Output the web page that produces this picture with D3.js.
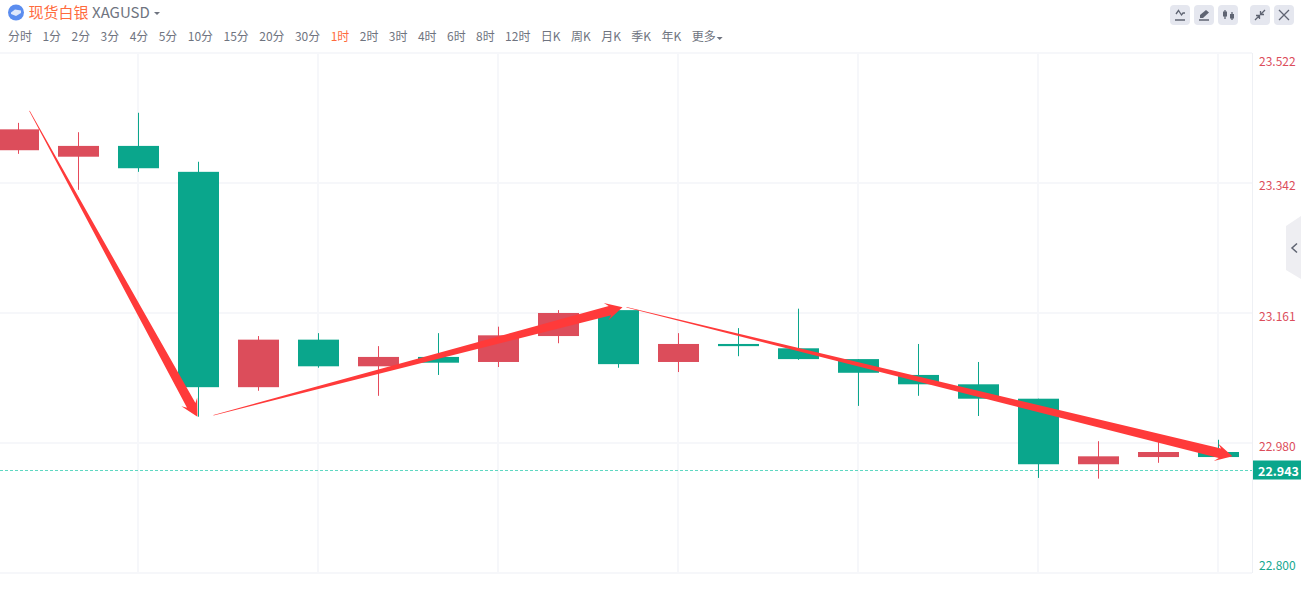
<!DOCTYPE html>
<html>
<head>
<meta charset="utf-8">
<script src="https://cdnjs.cloudflare.com/ajax/libs/d3/7.8.5/d3.min.js"></script>
<style>
  html, body { margin: 0; padding: 0; background: #fff; overflow: hidden; }
  svg { display: block; }
  text { font-family: "Noto Sans CJK SC", "Noto Sans", sans-serif; }
</style>
</head>
<body>
<svg id="chart" width="1301" height="593"></svg>
<script>
// candles
const open  = [23.387, 23.378, 23.393, 23.357, 23.058, 23.124, 23.087, 23.100, 23.093, 23.129, 23.165, 23.093, 23.118, 23.112, 23.097, 23.075, 23.062, 23.042, 22.951, 22.961, 22.968];
const high  = [23.425, 23.412, 23.439, 23.371, 23.129, 23.133, 23.115, 23.133, 23.142, 23.165, 23.165, 23.133, 23.140, 23.167, 23.097, 23.118, 23.093, 23.042, 22.983, 22.983, 22.985];
const low   = [23.382, 23.332, 23.357, 23.017, 23.053, 23.085, 23.046, 23.075, 23.086, 23.119, 23.085, 23.079, 23.101, 23.096, 23.032, 23.046, 23.018, 22.932, 22.931, 22.953, 22.961];
const close = [23.416, 23.393, 23.362, 23.058, 23.124, 23.087, 23.100, 23.092, 23.130, 23.161, 23.090, 23.118, 23.115, 23.097, 23.078, 23.062, 23.042, 22.951, 22.962, 22.968, 22.961];

const priceTicks = [23.522, 23.342, 23.161, 22.980, 22.800];
const gridCandles = [2, 5, 8, 11, 14, 17, 20];
const lastPrice = 22.943;

// hand drawn arrows: [candle index, price] from -> to
const arrowFrom = [[0.183, 23.4415], [3.25, 23.019], [10.133, 23.169]];
const arrowTo   = [[2.983, 23.017], [10.067, 23.169], [20.233, 22.962]];

const periods = ['分时','1分','2分','3分','4分','5分','10分','15分','20分','30分','1时','2时','3时','4时','6时','8时','12时','日K','周K','月K','季K','年K','更多'];
const activePeriod = '1时';

const RED = '#dc4d5b', RED_WICK = '#e64a5b', GREEN = '#0aa68c', ARROW = '#ff3a3a', GRID = '#f6f7fa';

const svg = d3.select('#chart');
const plotTop = 53, plotBottom = 573, plotRight = 1252;

const x = d3.scaleLinear().domain([0, 1]).range([18.5, 78.5]);
const y = d3.scaleLinear().domain([22.8, 23.522]).range([plotBottom, plotTop]);
const bodyWidth = 41;

/* grid */
const grid = svg.append('g').attr('stroke', GRID).attr('stroke-width', 2).attr('fill', 'none');
grid.selectAll('.h').data(priceTicks).enter().append('line')
    .attr('x1', 0).attr('x2', plotRight)
    .attr('y1', d => Math.round(y(d))).attr('y2', d => Math.round(y(d)));
grid.selectAll('.v').data(gridCandles).enter().append('line')
    .attr('x1', d => x(d) - 0.5).attr('x2', d => x(d) - 0.5)
    .attr('y1', plotTop).attr('y2', plotBottom);

svg.append('line')
    .attr('x1', plotRight + 0.5).attr('x2', plotRight + 0.5)
    .attr('y1', plotTop).attr('y2', plotBottom)
    .attr('stroke', '#eef0f4');

/* last price line */
svg.append('line')
    .attr('x1', 0).attr('x2', plotRight)
    .attr('y1', Math.round(y(lastPrice)) + 0.5).attr('y2', Math.round(y(lastPrice)) + 0.5)
    .attr('stroke', '#5fd8c2').attr('stroke-dasharray', '3,2');

/* candles */
const candles = svg.append('g').selectAll('g')
    .data(open.map((o, i) => ({ i, o, h: high[i], l: low[i], c: close[i] })))
    .enter().append('g');

candles.append('line')
    .attr('x1', d => x(d.i)).attr('x2', d => x(d.i))
    .attr('y1', d => y(d.h)).attr('y2', d => y(d.l))
    .attr('stroke', d => d.c >= d.o ? RED_WICK : GREEN)
    .attr('stroke-width', 1);

candles.append('rect')
    .attr('x', d => x(d.i) - bodyWidth / 2)
    .attr('width', bodyWidth)
    .attr('y', d => y(Math.max(d.o, d.c)))
    .attr('height', d => Math.max(1.5, Math.abs(y(d.o) - y(d.c))))
    .attr('fill', d => d.c >= d.o ? RED : GREEN);

/* arrows */
function arrowPath(from, to) {
  const x0 = x(from[0]), y0 = y(from[1]), x1 = x(to[0]), y1 = y(to[1]);
  const len = Math.hypot(x1 - x0, y1 - y0);
  const ux = (x1 - x0) / len, uy = (y1 - y0) / len;
  const nx = -uy, ny = ux;
  const pt = (along, side) => [x1 - ux * along + nx * side, y1 - uy * along + ny * side];
  return d3.line()([
    [x0 + nx * 0.3, y0 + ny * 0.3],
    pt(13, 4.8),
    pt(17, 9),
    [x1, y1],
    pt(17, -9),
    pt(13, -4.8),
    [x0 - nx * 0.3, y0 - ny * 0.3]
  ]) + 'Z';
}
svg.append('g').selectAll('path')
    .data(arrowFrom.map((f, i) => [f, arrowTo[i]]))
    .enter().append('path')
    .attr('d', d => arrowPath(d[0], d[1]))
    .attr('fill', ARROW);

/* price axis */
const axis = svg.append('g')
    .attr('transform', `translate(${plotRight + 7},0)`)
    .call(d3.axisRight(y).tickValues(priceTicks).tickSize(0).tickPadding(0).tickFormat(d3.format('.3f')));
axis.select('.domain').remove();
axis.selectAll('text')
    .attr('font-family', '"Noto Sans CJK SC", sans-serif')
    .attr('font-size', 12)
    .attr('fill', d => d < lastPrice ? '#16a88f' : '#dc4d5b')
    .attr('dy', d => d === priceTicks[0] ? 12 : d === priceTicks[4] ? -4 : 7);

svg.append('rect').attr('x', plotRight + 1).attr('y', y(lastPrice) - 9.5)
    .attr('width', 48).attr('height', 19).attr('fill', GREEN);
svg.append('text').attr('x', plotRight + 6).attr('y', y(lastPrice) + 6)
    .attr('font-size', 12.5).attr('font-weight', 700).attr('fill', '#fff').text(lastPrice.toFixed(3));

/* header */
svg.append('circle').attr('cx', 16).attr('cy', 12.5).attr('r', 8).attr('fill', '#5b8def');
svg.append('path').attr('d', 'M11 12.5L15 9.5L21 10.5L21 13L16 16L11 14Z').attr('fill', '#dfe8fb');
svg.append('text').attr('x', 28.5).attr('y', 17.5).attr('font-size', 15).attr('fill', '#ff6b3d').text('现货白银');
svg.append('text').attr('x', 92).attr('y', 17.5).attr('font-size', 15).attr('fill', '#6f7480').text('XAGUSD');
svg.append('path').attr('d', 'M154 12L160 12L157 15Z').attr('fill', '#6f7480');

let px = 8;
const gap = 10.4;
const periodRow = svg.append('g').attr('font-size', 12);
periods.forEach(p => {
  const t = periodRow.append('text').attr('x', px).attr('y', 41)
      .attr('fill', p === activePeriod ? '#ff6b3d' : '#6f7480').text(p);
  px += t.node().getComputedTextLength() + gap;
});
svg.append('path').attr('d', `M${px - gap + 1} 37L${px - gap + 7} 37L${px - gap + 4} 40Z`).attr('fill', '#6f7480');

/* toolbar buttons */
const buttonX = [1170, 1194, 1218, 1250, 1274];
svg.append('g').selectAll('rect').data(buttonX).enter().append('rect')
    .attr('x', d => d).attr('y', 5).attr('width', 20).attr('height', 20).attr('rx', 4)
    .attr('fill', '#e5e7ef');
const ic = svg.append('g').attr('stroke', '#5f6472').attr('fill', 'none').attr('stroke-width', 1.3);
ic.append('path').attr('d', 'M1176 14L1178.5 10.5L1181.5 15L1183 13L1185 13M1175 20L1185 20');
ic.append('path').attr('d', 'M1199 20L1209 20').attr('stroke-width', 1.5);
ic.append('path').attr('d', 'M1200 18L1200 15L1206 10L1209 12.5L1203 18Z').attr('fill', '#5f6472').attr('stroke', 'none');
ic.append('path').attr('d', 'M1225 10L1225 19M1232 12L1232 20');
ic.append('rect').attr('x', 1223).attr('y', 11.5).attr('width', 4).attr('height', 5).attr('fill', '#5f6472').attr('stroke', 'none');
ic.append('rect').attr('x', 1230).attr('y', 14).attr('width', 4).attr('height', 4.5).attr('fill', '#5f6472').attr('stroke', 'none');
ic.append('path').attr('d', 'M1255 20L1259 16M1261 14L1265 10M1256 15.5L1259.5 15.5L1259.5 19M1260.5 11L1260.5 14.5L1264 14.5');
ic.append('path').attr('d', 'M1279 10L1289 20M1289 10L1279 20');

/* side handle */
svg.append('path').attr('d', 'M1286 226L1301 216L1301 279L1286 270Z').attr('fill', '#eeeef2');
svg.append('path').attr('d', 'M1297 243.5L1292 248L1297 252.5').attr('fill', 'none')
    .attr('stroke', '#5f6472').attr('stroke-width', 1.5);
</script>
</body>
</html>
